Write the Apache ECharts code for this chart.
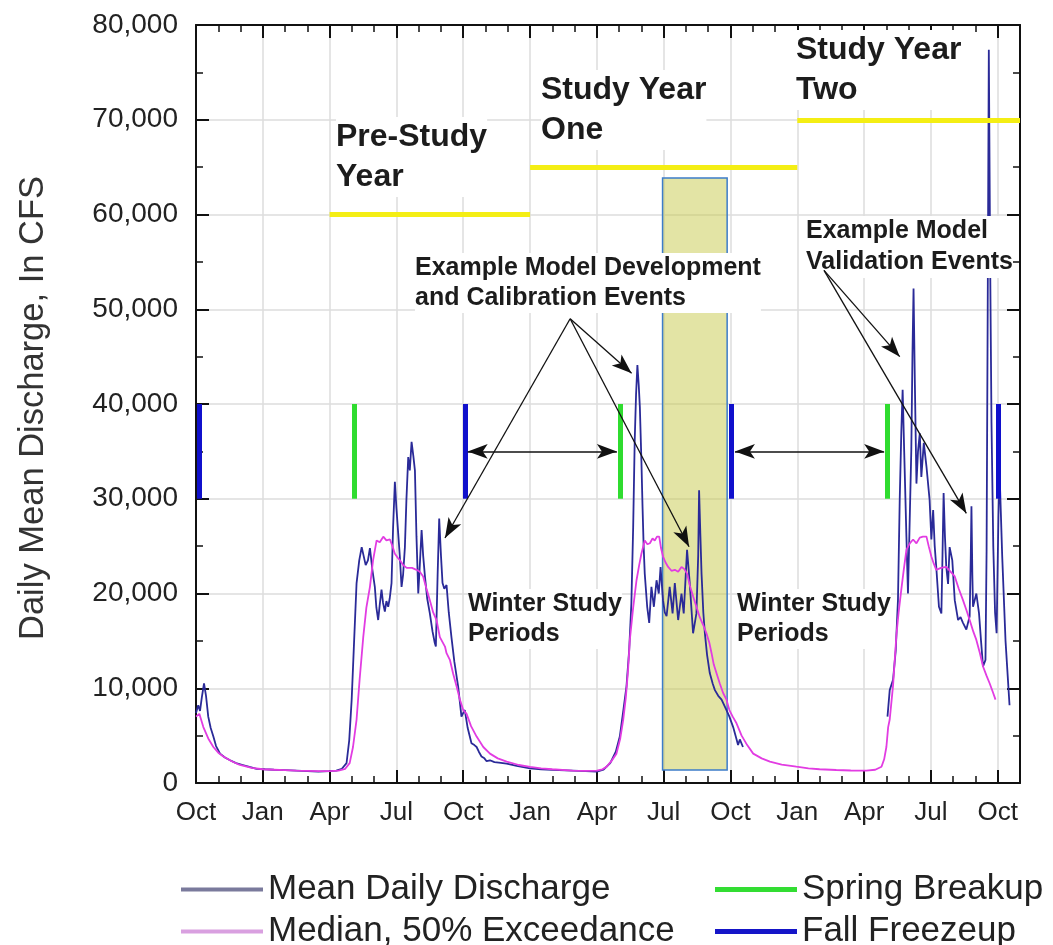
<!DOCTYPE html>
<html><head><meta charset="utf-8">
<script src="https://cdn.jsdelivr.net/npm/echarts@6/dist/echarts.min.js"></script>
<style>html,body{margin:0;padding:0;background:#fff}#c{width:1053px;height:945px}</style>
</head><body><div id="c"></div>
<script>
// x = months after the first October shown
const xTickLabels = ['Oct','Jan','Apr','Jul','Oct','Jan','Apr','Jul','Oct','Jan','Apr','Jul','Oct'];

const meanDaily = [
[0.0,7400],[0.1,8200],[0.18,7600],[0.26,9000],[0.36,10500],[0.45,9200],[0.55,7000],[0.66,5800],[0.78,4900],[0.9,3900],
[1.08,3100],[1.3,2700],[1.53,2400],[1.8,2100],[2.1,1900],[2.4,1700],[2.72,1500],[3.1,1450],[3.5,1400],[4.0,1350],
[4.5,1300],[5.0,1250],[5.5,1200],[6.0,1250],[6.3,1300],[6.55,1500],[6.76,2100],[6.88,4500],[6.99,8800],[7.1,15000],
[7.21,21100],[7.33,23500],[7.44,24900],[7.51,25100],[7.62,23000],[7.72,23500],[7.81,24800],[7.92,22500],[8.03,20700],[8.1,18500],
[8.18,17200],[8.25,18800],[8.33,20400],[8.4,19000],[8.48,18100],[8.55,19200],[8.63,18600],[8.7,19500],[8.78,21100],[8.85,27000],
[8.93,31800],[9.0,29000],[9.08,29200],[9.15,24000],[9.23,20700],[9.3,22000],[9.38,24900],[9.45,30000],[9.53,34400],[9.6,33000],
[9.68,36000],[9.76,34500],[9.83,33000],[9.9,26000],[9.98,20000],[10.05,23000],[10.13,26700],[10.2,24000],[10.28,21800],[10.38,19500],
[10.5,17900],[10.62,16000],[10.72,14800],[10.77,14400],[10.85,22000],[10.92,27900],[11.0,24000],[11.07,21100],[11.15,20500],[11.25,20900],
[11.35,18000],[11.47,15400],[11.6,12800],[11.77,10200],[11.85,8500],[11.92,7000],[12.0,7400],[12.07,7700],[12.2,5800],[12.37,4200],
[12.5,4000],[12.6,3800],[12.7,3300],[12.82,2800],[12.95,2600],[13.05,2300],[13.2,2400],[13.4,2200],[13.6,2150],[13.95,2050],
[14.4,1800],[15.0,1550],[15.5,1450],[16.0,1380],[16.9,1300],[17.5,1250],[18.0,1200],[18.3,1400],[18.6,2100],[18.85,3300],
[19.03,4900],[19.18,7500],[19.33,10200],[19.45,14000],[19.55,19000],[19.63,27000],[19.7,36200],[19.76,41000],[19.82,44100],[19.88,42000],
[19.93,39700],[20.0,34000],[20.05,29200],[20.1,25000],[20.15,22100],[20.26,18600],[20.35,16900],[20.45,20700],[20.56,18600],[20.68,21400],
[20.78,20000],[20.86,22800],[20.97,19300],[21.05,18000],[21.13,17600],[21.27,20700],[21.4,17900],[21.5,21100],[21.65,17200],[21.8,20000],
[21.9,17900],[22.05,24600],[22.17,21100],[22.32,15800],[22.47,17900],[22.55,24000],[22.59,30900],[22.65,26000],[22.7,22100],[22.78,18000],
[22.85,15800],[22.95,13500],[23.07,11600],[23.2,10500],[23.3,9800],[23.45,9200],[23.6,8800],[23.82,7700],[23.95,7000],[24.12,5900],
[24.25,4800],[24.34,4000],[24.42,4600],[24.49,4500],[24.56,3800],[24.7,null],
[31.05,7000],[31.15,9800],[31.3,10900],[31.42,14000],[31.52,19300],[31.6,30000],[31.67,37000],[31.73,41500],[31.8,35000],[31.9,26000],
[31.97,20000],[32.05,28000],[32.12,35200],[32.17,45000],[32.22,52200],[32.28,42000],[32.35,31600],[32.42,35000],[32.5,36900],[32.57,32300],
[32.68,35900],[32.8,33400],[32.94,29900],[33.02,25700],[33.1,28800],[33.17,25000],[33.24,22800],[33.36,18600],[33.47,17900],[33.52,24000],
[33.57,30600],[33.63,26000],[33.69,22800],[33.77,21000],[33.84,24900],[33.96,23500],[34.07,19300],[34.22,17200],[34.33,17500],[34.44,16900],
[34.59,16200],[34.74,17600],[34.79,24000],[34.82,29200],[34.86,22000],[34.89,18600],[35.04,20000],[35.16,17900],[35.25,15000],[35.34,12300],
[35.45,13000],[35.5,24600],[35.55,50000],[35.6,77400],[35.66,55000],[35.72,38000],[35.8,25000],[35.88,18000],[35.95,15800],[36.03,28000],
[36.08,33000],[36.2,24000],[36.35,15000],[36.53,8200]
];

const median = [
[0.0,7000],[0.15,7300],[0.33,5900],[0.55,4700],[0.78,3800],[1.0,3200],[1.23,2800],[1.6,2300],[1.97,1900],[2.5,1600],
[3.0,1450],[3.5,1400],[4.0,1350],[4.5,1300],[5.0,1280],[5.5,1250],[6.0,1250],[6.4,1300],[6.7,1500],[6.9,2100],
[7.05,3800],[7.21,6700],[7.35,11000],[7.51,15400],[7.65,18500],[7.81,20700],[7.95,23500],[8.11,25600],[8.25,25400],[8.41,26000],
[8.55,25600],[8.71,25700],[8.82,25000],[8.93,24200],[9.05,23800],[9.16,23500],[9.3,23000],[9.46,22700],[9.7,22700],[9.9,22500],
[10.05,22300],[10.2,21800],[10.35,20500],[10.5,19300],[10.65,18000],[10.8,17200],[10.95,15400],[11.18,14400],[11.25,13700],[11.4,13000],
[11.55,11500],[11.7,10200],[11.85,8800],[12.0,7700],[12.15,7300],[12.35,6000],[12.6,4900],[12.9,3800],[13.2,3100],[13.55,2600],
[13.95,2250],[14.5,1900],[15.0,1700],[15.5,1550],[16.0,1450],[16.9,1300],[17.5,1280],[18.0,1300],[18.25,1450],[18.43,1700],
[18.65,2300],[18.88,3100],[19.05,4700],[19.18,6600],[19.3,9000],[19.4,11900],[19.48,15100],[19.63,18500],[19.78,21400],[19.9,23000],
[20.0,24200],[20.15,25600],[20.27,25200],[20.38,25300],[20.5,25800],[20.6,25600],[20.7,26000],[20.8,26000],[20.88,24800],[20.97,23900],
[21.08,23300],[21.2,22800],[21.35,22400],[21.5,22500],[21.65,22300],[21.8,22800],[21.92,22600],[22.05,22100],[22.18,20800],[22.32,19700],
[22.47,18600],[22.62,17500],[22.77,16700],[22.92,15800],[23.05,14800],[23.15,13700],[23.25,12500],[23.37,11600],[23.52,10500],[23.67,9500],
[23.82,8800],[23.95,7700],[24.1,7000],[24.27,6300],[24.5,5000],[24.75,4000],[25.02,3100],[25.4,2600],[25.77,2250],[26.3,1950],
[26.96,1720],[27.5,1550],[28.0,1450],[28.75,1370],[29.4,1320],[30.1,1300],[30.5,1400],[30.78,1720],[30.9,2500],[31.0,3800],
[31.08,5900],[31.15,6700],[31.3,10300],[31.45,15600],[31.55,18000],[31.67,20400],[31.78,22500],[31.9,24600],[32.05,25300],[32.2,25700],
[32.35,25300],[32.5,25900],[32.64,26000],[32.8,26000],[32.9,25000],[33.02,23900],[33.12,23200],[33.24,22500],[33.45,22700],[33.69,22800],
[33.88,22300],[34.07,21800],[34.25,20500],[34.44,19300],[34.6,18200],[34.74,17200],[34.9,16000],[35.04,15100],[35.2,13700],[35.34,12300],
[35.5,11300],[35.64,10500],[35.78,9600],[35.9,8800]
];

const springBreakup = [7.1, 19.07, 31.04];
const fallFreezeup = [0.15, 12.1, 24.04, 36.02];
const markerRange = [30000, 40000];

const yearBarStart = [6, 15, 27];
const yearBarEnd = [15, 27, 37];
const yearBarLevel = [60000, 65000, 70000];

const winterArrowFrom = [12.2, 24.2];
const winterArrowTo = [18.9, 30.9];
const winterArrowLevel = 35000;

const calibOrigin = [16.8, 49000];
const calibTargets = [[11.18, 25860], [19.56, 43240], [22.14, 24940]];
const validOrigin = [28.2, 54100];
const validTargets = [[31.6, 45000], [34.59, 28460]];

const highlightBox = [[20.95, 63850], [23.85, 1370]];

const FONT = '"Liberation Sans", Arial, sans-serif';

function vSegs(xs) { return xs.map(x => [{coord: [x, markerRange[0]]}, {coord: [x, markerRange[1]]}]); }

const chart = echarts.init(document.getElementById('c'), null, {renderer: 'canvas'});

const axisLineStyle = {show: true, onZero: false, lineStyle: {color: '#111', width: 2}};
const axisTickStyle = {show: true, inside: true, length: 13, lineStyle: {color: '#111', width: 2}};
function minor(n) { return {show: true, splitNumber: n, length: 7, lineStyle: {color: '#111', width: 1.5}}; }

const option = {
  animation: false,
  backgroundColor: '#fff',
  grid: {left: 196, right: 33, top: 25, bottom: 162, containLabel: false},
  xAxis: [
    {type: 'value', position: 'bottom', min: 0, max: 37, interval: 3,
      axisLine: axisLineStyle, axisTick: axisTickStyle, minorTick: minor(3),
      splitLine: {show: true, lineStyle: {color: '#dcdcdc', width: 1.5}},
      axisLabel: {show: true, margin: 17, fontSize: 26, color: '#222', fontFamily: FONT, showMaxLabel: false,
        formatter: v => (Math.abs(v % 3) < 1e-6 ? xTickLabels[Math.round(v / 3)] : '')}},
    {type: 'value', position: 'top', min: 0, max: 37, interval: 3,
      axisLine: axisLineStyle, axisTick: axisTickStyle, minorTick: minor(3),
      splitLine: {show: false}, axisLabel: {show: false}}
  ],
  yAxis: [
    {type: 'value', position: 'left', min: 0, max: 80000, interval: 10000,
      axisLine: axisLineStyle, axisTick: axisTickStyle, minorTick: minor(2),
      splitLine: {show: true, lineStyle: {color: '#dcdcdc', width: 1.5}},
      axisLabel: {show: true, margin: 18, fontSize: 28, color: '#222', fontFamily: FONT,
        formatter: v => v.toLocaleString('en-US')}},
    {type: 'value', position: 'right', min: 0, max: 80000, interval: 10000,
      axisLine: axisLineStyle, axisTick: axisTickStyle, minorTick: minor(2),
      splitLine: {show: false}, axisLabel: {show: false}}
  ],
  legend: [
    {orient: 'vertical', left: 176, top: 867, height: 80, itemWidth: 82, itemHeight: 4, itemGap: 7, icon: 'rect',
      textStyle: {fontSize: 35, lineHeight: 35, color: '#222', fontFamily: FONT},
      data: [{name: 'Mean Daily Discharge', itemStyle: {color: '#7a7a9c'}},
             {name: 'Median, 50% Exceedance', itemStyle: {color: '#d9a0e0'}}]},
    {orient: 'vertical', left: 710, top: 867, height: 80, itemWidth: 82, itemHeight: 5, itemGap: 7, icon: 'rect',
      textStyle: {fontSize: 35, lineHeight: 35, color: '#222', fontFamily: FONT},
      data: [{name: 'Spring Breakup', itemStyle: {color: '#33dd33'}},
             {name: 'Fall Freezeup', itemStyle: {color: '#1515c8'}}]}
  ],
  series: [
    {name: 'Mean Daily Discharge', type: 'line', data: meanDaily, showSymbol: false, symbol: 'none',
      connectNulls: false, z: 2, color: '#2a2a98', lineStyle: {color: '#2a2a98', width: 1.8}, silent: true},
    {name: 'Median, 50% Exceedance', type: 'line', data: median, showSymbol: false, symbol: 'none',
      z: 2, color: '#e23ce2', lineStyle: {color: '#e23ce2', width: 1.8}, silent: true},
    {name: 'Spring Breakup', type: 'line', data: [], color: '#33dd33', z: 4, silent: true,
      markLine: {silent: true, symbol: ['none', 'none'], label: {show: false},
        lineStyle: {color: '#2fdc2f', width: 5, type: 'solid'}, data: vSegs(springBreakup)}},
    {name: 'Fall Freezeup', type: 'line', data: [], color: '#1515c8', z: 4, silent: true,
      markLine: {silent: true, symbol: ['none', 'none'], label: {show: false},
        lineStyle: {color: '#1010cc', width: 5, type: 'solid'}, data: vSegs(fallFreezeup)}},
    {name: 'yearBars', type: 'line', data: [], z: 4, silent: true,
      markLine: {silent: true, symbol: ['none', 'none'], label: {show: false},
        lineStyle: {color: '#f4ee14', width: 5, type: 'solid'},
        data: yearBarStart.map((s, i) => [{coord: [s, yearBarLevel[i]]}, {coord: [yearBarEnd[i], yearBarLevel[i]]}])}},
    {name: 'box', type: 'line', data: [], z: 5, silent: true,
      markArea: {silent: true, itemStyle: {color: 'rgba(200,202,75,0.5)', borderColor: '#3d7cc9', borderWidth: 1.5},
        data: [[{coord: highlightBox[0]}, {coord: highlightBox[1]}]]}},
    {name: 'winterArrows', type: 'line', data: [], z: 6, silent: true,
      markLine: {silent: true, symbol: ['arrow', 'arrow'], symbolSize: [11, 20], label: {show: false},
        lineStyle: {color: '#111', width: 1.6, type: 'solid'},
        data: winterArrowFrom.map((a, i) => [{coord: [a, winterArrowLevel]}, {coord: [winterArrowTo[i], winterArrowLevel]}])}},
    {name: 'eventArrows', type: 'line', data: [], z: 6, silent: true,
      markLine: {silent: true, symbol: ['none', 'arrow'], symbolSize: [11, 20], label: {show: false},
        lineStyle: {color: '#111', width: 1.3, type: 'solid'},
        data: calibTargets.map(t => [{coord: calibOrigin}, {coord: t}])
          .concat(validTargets.map(t => [{coord: validOrigin}, {coord: t}]))}}
  ],
  graphic: [
    {type: 'text', left: 336, top: 117, z: 3, style: {text: 'Pre-Study\nYear', font: 'bold 32px ' + FONT, fill: '#1c1c1c', lineHeight: 40, backgroundColor: '#fff'}},
    {type: 'text', left: 541, top: 70, z: 3, style: {text: 'Study Year\nOne', font: 'bold 32px ' + FONT, fill: '#1c1c1c', lineHeight: 40, backgroundColor: '#fff'}},
    {type: 'text', left: 796, top: 30, z: 3, style: {text: 'Study Year\nTwo', font: 'bold 32px ' + FONT, fill: '#1c1c1c', lineHeight: 40, backgroundColor: '#fff'}},
    {type: 'text', left: 415, top: 253, z: 3, style: {text: 'Example Model Development\nand Calibration Events', font: 'bold 25px ' + FONT, fill: '#1c1c1c', lineHeight: 30, backgroundColor: '#fff'}},
    {type: 'text', left: 806, top: 216, z: 3, style: {text: 'Example Model\nValidation Events', font: 'bold 25px ' + FONT, fill: '#1c1c1c', lineHeight: 31, backgroundColor: '#fff'}},
    {type: 'text', left: 468, top: 589, z: 3, style: {text: 'Winter Study\nPeriods', font: 'bold 25px ' + FONT, fill: '#1c1c1c', lineHeight: 30, backgroundColor: '#fff'}},
    {type: 'text', left: 737, top: 589, z: 3, style: {text: 'Winter Study\nPeriods', font: 'bold 25px ' + FONT, fill: '#1c1c1c', lineHeight: 30, backgroundColor: '#fff'}},
    {type: 'text', x: 33, y: 408, rotation: Math.PI / 2, z: 3, style: {text: 'Daily Mean Discharge, In CFS', font: '34.5px ' + FONT, fill: '#333', align: 'center', verticalAlign: 'middle'}}
  ]
};
chart.setOption(option);
</script>
</body></html>
